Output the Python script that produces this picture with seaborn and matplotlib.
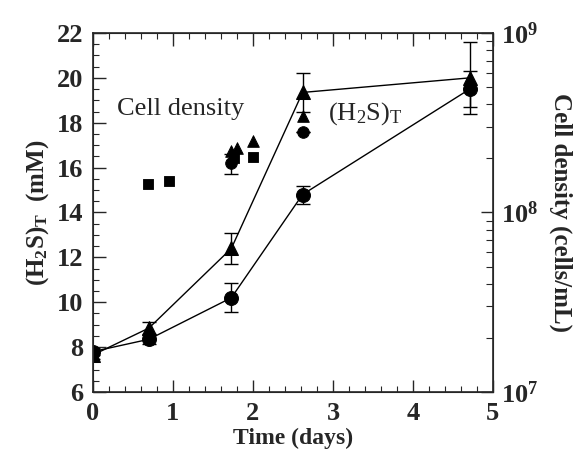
import numpy as np
import pandas as pd
import matplotlib
matplotlib.use('Agg')
import matplotlib.pyplot as plt
import seaborn as sns
from matplotlib.ticker import MultipleLocator, LogLocator, NullFormatter

# (H2S)T series, connected lines
t_line = [0, 0.7, 1.73, 2.62, 4.71]
h2s_tri = [7.65, 8.85, 12.4, 19.35, 20.0]
h2s_tri_err = [0.2, 0.25, 0.7, 0.85, 1.6]
h2s_cir = [7.8, 8.35, 10.2, 14.8, 19.5]
h2s_cir_err = [0.15, 0.2, 0.65, 0.4, 0.8]

# cell density points (right axis, cells/mL)
cd_sq_t = [0.69, 0.95, 1.76, 2.0]
cd_sq = [1.45e8, 1.50e8, 2.0e8, 2.05e8]
cd_tri_t = [1.72, 1.8, 2.0, 2.62]
cd_tri = [2.2e8, 2.3e8, 2.5e8, 3.45e8]
cd_cir_t = [1.72, 2.62]
cd_cir = [1.88e8, 2.82e8]
cd_cir_err = [0.25e8, 0.0]

sns.set_style("ticks")
plt.rcParams['font.family'] = ['Liberation Serif', 'DejaVu Serif']
plt.rcParams['mathtext.fontset'] = 'custom'
plt.rcParams['mathtext.rm'] = 'Liberation Serif'
plt.rcParams['mathtext.bf'] = 'Liberation Serif:bold'

fig = plt.figure(figsize=(5.83, 4.55), dpi=100)
ax = fig.add_axes([0.1595, 0.1385, 0.686, 0.789])

df = pd.DataFrame({'t': t_line, 'tri': h2s_tri, 'cir': h2s_cir})
sns.lineplot(data=df, x='t', y='tri', ax=ax, color='black', lw=1, marker='^',
             markersize=10, markeredgecolor='black')
sns.lineplot(data=df, x='t', y='cir', ax=ax, color='black', lw=1, marker='o',
             markersize=10, markeredgecolor='black')
ax.errorbar(t_line, h2s_tri, yerr=h2s_tri_err, fmt='none', ecolor='black',
            elinewidth=1, capsize=5)
ax.errorbar(t_line, h2s_cir, yerr=h2s_cir_err, fmt='none', ecolor='black',
            elinewidth=1, capsize=5)

ax.set_xlim(0, 5)
ax.set_ylim(6, 22)
ax.xaxis.set_major_locator(MultipleLocator(1))
ax.xaxis.set_minor_locator(MultipleLocator(0.2))
ax.yaxis.set_major_locator(MultipleLocator(2))
ax.yaxis.set_minor_locator(MultipleLocator(0.5))
ax.tick_params(which='both', direction='in', top=True, right=False)
ax.tick_params(which='major', length=9, width=1, labelsize=19, pad=7)
ax.tick_params(which='minor', length=4, width=0.8)
for lab in ax.get_xticklabels() + ax.get_yticklabels():
    lab.set_fontweight('bold')
ax.set_xlabel('Time (days)', fontsize=17, fontweight='bold', labelpad=2)
ax.set_ylabel(r'$\mathbf{(H_2S)_T}$  (mM)', fontsize=18, fontweight='bold', labelpad=4)

ax2 = ax.twinx()
ax2.set_yscale('log')
ax2.set_ylim(1e7, 1e9)
sns.scatterplot(x=cd_sq_t, y=cd_sq, ax=ax2, marker='s', s=60, color='black', edgecolor='black')
sns.scatterplot(x=cd_tri_t, y=cd_tri, ax=ax2, marker='^', s=70, color='black', edgecolor='black')
sns.scatterplot(x=cd_cir_t, y=cd_cir, ax=ax2, marker='o', s=70, color='black', edgecolor='black')
ax2.errorbar(cd_cir_t, cd_cir, yerr=cd_cir_err, fmt='none', ecolor='black',
             elinewidth=1, capsize=5)
ax2.yaxis.set_major_locator(LogLocator(base=10, numticks=5))
ax2.yaxis.set_minor_locator(LogLocator(base=10, subs=np.arange(2, 10), numticks=20))
ax2.yaxis.set_minor_formatter(NullFormatter())
ax2.tick_params(which='both', direction='in')
ax2.tick_params(which='major', length=9, width=1, labelsize=19, pad=6)
ax2.tick_params(which='minor', length=5, width=0.8)
for lab in ax2.get_yticklabels():
    lab.set_fontweight('bold')
ax2.set_ylabel('Cell density (cells/mL)', fontsize=18, fontweight='bold',
               rotation=270, labelpad=24)
ax2.set_xlim(0, 5)

ax.text(0.3, 18.6, 'Cell density', fontsize=19, va='center')
ax.text(2.94, 18.4, r'$\mathregular{(H_2S)_T}$', fontsize=19, va='center')

for sp in ax.spines.values():
    sp.set_linewidth(1.2)

fig.savefig('out.png', dpi=100)
